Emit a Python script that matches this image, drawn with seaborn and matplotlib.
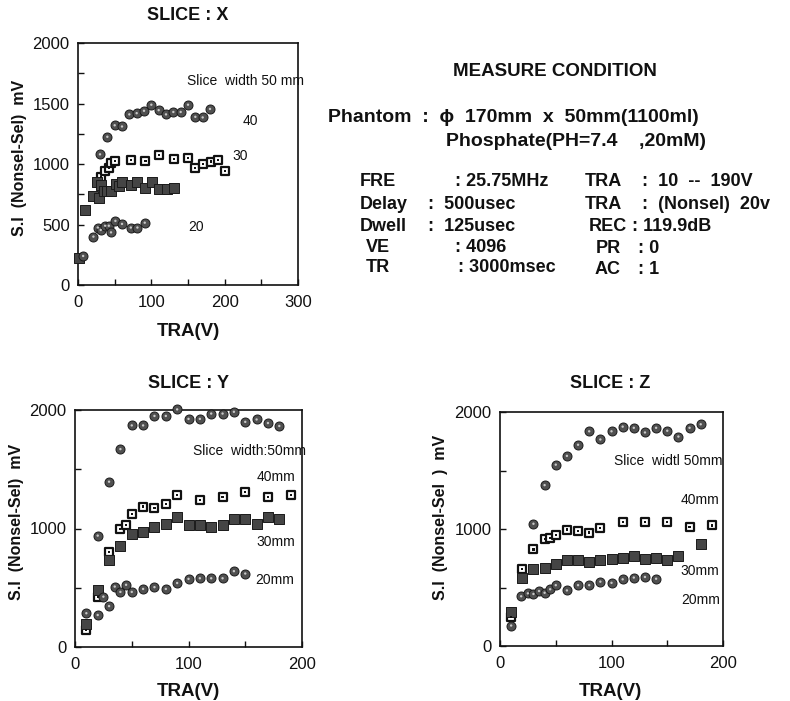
import matplotlib
matplotlib.use("Agg")
import matplotlib.pyplot as plt
import seaborn as sns
from matplotlib.ticker import MultipleLocator

# ---------------- data ----------------
# SLICE : X
x_x50 = [30, 40, 50, 60, 70, 80, 90, 100, 110, 120, 130, 140, 150, 160, 170, 180]
y_x50 = [1080, 1225, 1320, 1310, 1410, 1420, 1440, 1490, 1445, 1410, 1430, 1430, 1490, 1390, 1385, 1455]
x_x40 = [31, 37, 42, 45, 51, 72, 92, 110, 131, 150, 160, 171, 181, 191, 201]
y_x40 = [890, 940, 970, 1010, 1025, 1035, 1025, 1075, 1040, 1050, 965, 1000, 1020, 1035, 940]
x_x30 = [2, 10, 21, 26, 28, 31, 35, 40, 45, 52, 56, 60, 72, 81, 91, 101, 110, 121, 131]
y_x30 = [225, 620, 735, 850, 715, 830, 780, 775, 780, 835, 815, 850, 830, 850, 805, 850, 795, 795, 805]
x_x20 = [7, 21, 27, 31, 37, 42, 45, 51, 60, 72, 81, 91]
y_x20 = [240, 400, 475, 455, 490, 490, 435, 530, 505, 475, 475, 515]

# SLICE : Y
x_y50 = [20, 30, 40, 50, 60, 70, 80, 90, 100, 110, 120, 130, 140, 150, 160, 170, 180]
y_y50 = [940, 1395, 1670, 1870, 1870, 1950, 1950, 2005, 1925, 1925, 1970, 1970, 1985, 1900, 1920, 1890, 1865]
x_y40 = [10, 20, 30, 40, 45, 50, 60, 70, 80, 90, 110, 130, 150, 170, 190]
y_y40 = [145, 425, 805, 995, 1030, 1125, 1185, 1175, 1210, 1280, 1240, 1265, 1310, 1265, 1285]
x_y30 = [10, 20, 30, 40, 50, 60, 70, 80, 90, 100, 110, 120, 130, 140, 150, 160, 170, 180]
y_y30 = [195, 480, 735, 855, 950, 970, 1010, 1040, 1095, 1030, 1030, 1010, 1030, 1080, 1080, 1040, 1100, 1080]
x_y20 = [10, 20, 25, 30, 35, 40, 45, 50, 60, 70, 80, 90, 100, 110, 120, 130, 140, 150]
y_y20 = [285, 270, 425, 345, 510, 465, 525, 465, 490, 505, 490, 540, 575, 580, 580, 580, 640, 620]

# SLICE : Z
x_z50 = [30, 40, 50, 60, 70, 80, 90, 100, 110, 120, 130, 140, 150, 160, 170, 180]
y_z50 = [1045, 1375, 1550, 1625, 1720, 1835, 1765, 1835, 1875, 1865, 1825, 1865, 1840, 1790, 1865, 1895]
x_z40 = [10, 20, 30, 40, 45, 50, 60, 70, 80, 90, 110, 130, 150, 170, 190]
y_z40 = [250, 660, 825, 915, 925, 950, 995, 985, 970, 1010, 1060, 1060, 1060, 1020, 1030]
x_z30 = [10, 20, 30, 40, 50, 60, 70, 80, 90, 100, 110, 120, 130, 140, 150, 160, 180]
y_z30 = [290, 585, 655, 670, 705, 735, 735, 720, 735, 745, 755, 770, 745, 755, 735, 770, 875]
x_z20 = [10, 19, 25, 30, 35, 40, 45, 50, 60, 70, 80, 90, 100, 110, 120, 130, 140]
y_z20 = [175, 425, 450, 445, 470, 455, 485, 520, 475, 520, 520, 550, 540, 570, 585, 590, 575]

# ---------------- style ----------------
sns.set_style("ticks")
plt.rcParams['font.family'] = ['Liberation Sans', 'DejaVu Sans']

W, H = 790, 701
fig = plt.figure(figsize=(W / 100, H / 100), dpi=100)


def px_axes(l, t, r, b):
    return fig.add_axes([l / W, 1 - b / H, (r - l) / W, (b - t) / H])


def ftext(x, y, s, **kw):
    kw.setdefault('va', 'center')
    kw.setdefault('ha', 'left')
    return fig.text(x / W, 1 - y / H, s, **kw)


def circles(ax, x, y):
    sns.scatterplot(x=x, y=y, ax=ax, marker='o', s=42, color='#505050',
                    edgecolor='#1a1a1a', linewidth=0.7, clip_on=False, zorder=3)
    sns.scatterplot(x=x, y=y, ax=ax, marker='o', s=3, color='#c8c8c8',
                    edgecolor='none', linewidth=0, clip_on=False, zorder=4)


def open_squares(ax, x, y):
    sns.scatterplot(x=x, y=y, ax=ax, marker='s', s=36, color='white',
                    edgecolor='#111111', linewidth=1.6, clip_on=False, zorder=3)
    sns.scatterplot(x=x, y=y, ax=ax, marker='s', s=2.5, color='#111111',
                    edgecolor='none', linewidth=0, clip_on=False, zorder=4)


def filled_squares(ax, x, y):
    sns.scatterplot(x=x, y=y, ax=ax, marker='s', s=46, color='#454545',
                    edgecolor='#1a1a1a', linewidth=0.7, clip_on=False, zorder=3)


def style_axes(ax, xmax, xmajor, ymajor, yminor):
    ax.set_xlim(0, xmax)
    ax.set_ylim(0, 2000)
    ax.xaxis.set_major_locator(MultipleLocator(xmajor))
    ax.xaxis.set_minor_locator(MultipleLocator(50))
    ax.yaxis.set_major_locator(MultipleLocator(ymajor))
    ax.yaxis.set_minor_locator(MultipleLocator(yminor))
    ax.tick_params(which='both', direction='in', length=4, width=1.0,
                   top=False, right=False, labelsize=12, colors='#111111')
    ax.tick_params(axis='x', pad=7)
    ax.tick_params(axis='y', pad=6)
    for sp in ax.spines.values():
        sp.set_visible(True)
        sp.set_linewidth(1.2)
        sp.set_color('#111111')
    ax.set_xlabel('')
    ax.set_ylabel('')


lab_kw = dict(fontsize=10, color='#111111')
bold = dict(fontweight='bold', color='#111111')
title_fs = 13
xlab_fs = 13.5
ylab_fs = 11.5

# ---- SLICE : X ----
axX = px_axes(78, 43, 298, 285)
circles(axX, x_x50, y_x50)
open_squares(axX, x_x40, y_x40)
filled_squares(axX, x_x30, y_x30)
circles(axX, x_x20, y_x20)
style_axes(axX, 300, 100, 500, 250)
axX.text(148, 1690, 'Slice  width 50 mm', va='center', **lab_kw)
axX.text(225, 1355, '40', va='center', **lab_kw)
axX.text(210, 1065, '30', va='center', **lab_kw)
axX.text(151, 480, '20', va='center', **lab_kw)
ftext(188, 15, 'SLICE : X', ha='center', fontsize=title_fs, **bold)
ftext(188, 331, 'TRA(V)', ha='center', fontsize=xlab_fs, **bold)
ftext(20, 158, 'S.I  (Nonsel-Sel)  mV', ha='center', rotation=90, fontsize=ylab_fs, **bold)

# ---- SLICE : Y ----
axY = px_axes(75, 410, 302, 647)
circles(axY, x_y50, y_y50)
open_squares(axY, x_y40, y_y40)
filled_squares(axY, x_y30, y_y30)
circles(axY, x_y20, y_y20)
style_axes(axY, 200, 100, 1000, 500)
axY.text(104, 1650, 'Slice  width:50mm', va='center', **lab_kw)
axY.text(160, 1435, '40mm', va='center', **lab_kw)
axY.text(160, 885, '30mm', va='center', **lab_kw)
axY.text(159, 567, '20mm', va='center', **lab_kw)
ftext(188, 383, 'SLICE : Y', ha='center', fontsize=title_fs, **bold)
ftext(188, 692, 'TRA(V)', ha='center', fontsize=xlab_fs, **bold)
ftext(17, 522, 'S.I  (Nonsel-Sel)  mV', ha='center', rotation=90, fontsize=ylab_fs, **bold)

# ---- SLICE : Z ----
axZ = px_axes(500, 412, 723, 646)
circles(axZ, x_z50, y_z50)
open_squares(axZ, x_z40, y_z40)
filled_squares(axZ, x_z30, y_z30)
circles(axZ, x_z20, y_z20)
style_axes(axZ, 200, 100, 1000, 500)
axZ.text(102, 1580, 'Slice  widtl 50mm', va='center', **lab_kw)
axZ.text(162, 1250, '40mm', va='center', **lab_kw)
axZ.text(162, 640, '30mm', va='center', **lab_kw)
axZ.text(163, 392, '20mm', va='center', **lab_kw)
ftext(610, 383, 'SLICE : Z', ha='center', fontsize=title_fs, **bold)
ftext(610, 692, 'TRA(V)', ha='center', fontsize=xlab_fs, **bold)
ftext(441, 517, 'S.I  (Nonsel-Sel  )  mV', ha='center', rotation=90, fontsize=ylab_fs, **bold)

# ---- MEASURE CONDITION ----
fs = 13
ftext(555, 72, 'MEASURE CONDITION', ha='center', fontsize=13.5, **bold)
ftext(328, 117, 'Phantom  :  \u03d5  170mm  x  50mm(1100ml)', fontsize=14, **bold)
ftext(446, 142, 'Phosphate(PH=7.4    ,20mM)', fontsize=14, **bold)

ftext(360, 181, 'FRE', fontsize=fs, **bold)
ftext(455, 181, ': 25.75MHz', fontsize=fs, **bold)
ftext(360, 204, 'Delay', fontsize=fs, **bold)
ftext(428, 204, ':  500usec', fontsize=fs, **bold)
ftext(360, 227, 'Dwell', fontsize=fs, **bold)
ftext(428, 227, ':  125usec', fontsize=fs, **bold)
ftext(366, 248, 'VE', fontsize=fs, **bold)
ftext(455, 248, ': 4096', fontsize=fs, **bold)
ftext(366, 268, 'TR', fontsize=fs, **bold)
ftext(458, 268, ': 3000msec', fontsize=fs, **bold)

ftext(585, 181, 'TRA', fontsize=fs, **bold)
ftext(642, 181, ':  10  --  190V', fontsize=fs, **bold)
ftext(585, 204, 'TRA', fontsize=fs, **bold)
ftext(642, 204, ':  (Nonsel)  20v', fontsize=fs, **bold)
ftext(589, 227, 'REC', fontsize=fs, **bold)
ftext(632, 227, ': 119.9dB', fontsize=fs, **bold)
ftext(596, 249, 'PR', fontsize=fs, **bold)
ftext(638, 249, ': 0', fontsize=fs, **bold)
ftext(595, 270, 'AC', fontsize=fs, **bold)
ftext(638, 270, ': 1', fontsize=fs, **bold)

fig.savefig('out.png', dpi=100)
